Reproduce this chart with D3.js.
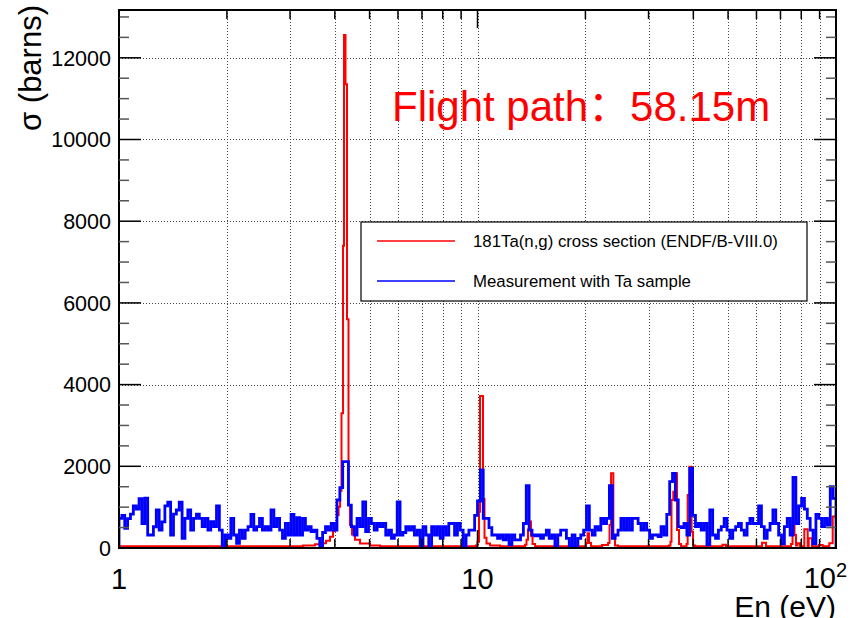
<!DOCTYPE html>
<html>
<head>
<meta charset="utf-8">
<style>
  body { margin: 0; background: #fff; }
  svg text { font-family: "Liberation Sans", Arial, Helvetica, "Noto Sans CJK SC", sans-serif; }
</style>
<script src="https://cdn.jsdelivr.net/npm/d3@7"></script>
</head>
<body>
<div id="chart"></div>
<script>
// measurement histogram: 250 log bins between 1 and 100 eV
var eMin = 1, eMax = 100, nBins = 250;
var blueCounts = [
  727, 800, 480, 720, 830, 1030, 950, 1210, 600, 1220,
  318, 318, 520, 930, 440, 640, 1030, 1120, 318, 830,
  930, 1120, 236, 726, 930, 440, 726, 830, 726, 522,
  726, 440, 644, 522, 1028, 440, 0, 318, 236, 726,
  318, 114, 440, 236, 440, 522, 824, 440, 522, 726,
  440, 522, 440, 930, 522, 726, 440, 236, 600, 318,
  824, 318, 740, 318, 726, 440, 522, 400, 440, 236,
  0, 380, 520, 440, 600, 440, 1175, 1480, 2113, 2113,
  1050, 522, 318, 726, 522, 1126, 400, 726, 600, 440,
  600, 522, 600, 318, 440, 236, 318, 1126, 318, 380,
  522, 440, 522, 318, 440, 0, 522, 318, 0, 522,
  318, 522, 236, 522, 318, 600, 600, 318, 600, 440,
  0, 318, 440, 440, 800, 1150, 1909, 726, 726, 500,
  318, 318, 236, 318, 200, 318, 80, 318, 200, 200,
  318, 600, 1526, 440, 318, 300, 318, 236, 318, 440,
  236, 318, 40, 318, 440, 440, 236, 0, 318, 0,
  236, 318, 440, 1028, 440, 318, 522, 440, 726, 600,
  726, 1526, 236, 318, 440, 726, 440, 726, 440, 726,
  726, 600, 440, 600, 440, 236, 318, 318, 280, 522,
  318, 824, 1624, 1827, 1175, 522, 500, 600, 318, 1950,
  800, 522, 600, 440, 600, 80, 930, 318, 236, 440,
  522, 726, 440, 236, 440, 522, 600, 440, 318, 600,
  726, 600, 600, 1028, 522, 236, 440, 600, 930, 600,
  318, 100, 522, 726, 318, 1729, 600, 1028, 1215, 950,
  726, 440, 100, 824, 726, 522, 726, 560, 1500, 1215
];

// ENDF cross section, read as step points (energy eV, sigma barns)
var redEnergy = [
  1.000, 2.320, 3.198, 3.261, 3.521, 3.636, 3.780, 3.878, 3.954, 4.005,
  4.057, 4.097, 4.137, 4.175, 4.216, 4.243, 4.284, 4.325, 4.367, 4.410,
  4.466, 4.553, 4.701, 5.013, 5.346, 9.530, 9.904, 10.00, 10.097, 10.162,
  10.360, 10.460, 10.595, 10.836, 11.556, 13.569, 13.700, 13.833, 13.922, 14.102,
  14.239, 14.475, 20.08, 20.27, 20.47, 20.73, 22.25, 23.13, 23.35, 23.58,
  23.93, 24.19, 24.66, 34.21, 34.54, 34.76, 35.17, 35.56, 36.02, 36.48,
  36.96, 38.28, 38.57, 39.02, 39.54, 39.92, 40.44, 48.23, 49.32, 62.16,
  63.78, 74.90, 75.63, 76.60, 77.34, 78.09, 79.36, 81.58, 83.38, 83.91,
  85.71, 89.65, 91.81, 95.79, 97.90, 100
];
var redSigma = [
  45, 40, 45, 60, 90, 115, 180, 277, 420, 522,
  800, 1011, 1400, 3300, 7400, 12560, 11350, 5600, 1050, 560,
  330, 200, 110, 60, 45, 40, 60, 150, 890, 3720,
  1200, 250, 110, 60, 40, 80, 200, 450, 650, 300,
  100, 45, 120, 360, 120, 40, 75, 120, 560, 1827,
  300, 60, 40, 60, 150, 1175, 1380, 1830, 440, 100,
  40, 100, 1300, 1990, 400, 60, 40, 80, 40, 130,
  40, 100, 560, 320, 60, 114, 40, 460, 40, 236,
  40, 73, 40, 114, 770, 770
];

var yMajor = [0, 2000, 4000, 6000, 8000, 10000, 12000];
var xMajor = [1, 10, 100];
var xMinor = [2, 3, 4, 5, 6, 7, 8, 9, 20, 30, 40, 50, 60, 70, 80, 90];
var yMax = 13170;

var W = 860, H = 618;
var fLeft = 119, fRight = 836, fTop = 10, fBottom = 548;

var svg = d3.select("#chart").append("svg")
    .attr("width", W).attr("height", H);

var x = d3.scaleLog().domain([eMin, eMax]).range([fLeft, fRight]);
var y = d3.scaleLinear().domain([0, yMax]).range([fBottom, fTop]);

// grid
var grid = svg.append("g").attr("stroke", "#444").attr("stroke-width", 1)
    .attr("stroke-dasharray", "1,2");
grid.selectAll(".gx").data(xMinor.concat([10])).enter().append("line")
    .attr("x1", function(d) { return Math.round(x(d)) + 0.5; })
    .attr("x2", function(d) { return Math.round(x(d)) + 0.5; })
    .attr("y1", fTop).attr("y2", fBottom);
grid.selectAll(".gy").data(yMajor.slice(1)).enter().append("line")
    .attr("y1", function(d) { return Math.round(y(d)) + 0.5; })
    .attr("y2", function(d) { return Math.round(y(d)) + 0.5; })
    .attr("x1", fLeft).attr("x2", fRight);

svg.append("clipPath").attr("id", "clip").append("rect")
    .attr("x", fLeft).attr("y", fTop).attr("width", fRight - fLeft).attr("height", fBottom - fTop);

var plot = svg.append("g").attr("clip-path", "url(#clip)");

// red cross section (step line)
var redPts = redEnergy.map(function(e, i) { return [e, redSigma[i]]; });
var redLine = d3.line()
    .x(function(d) { return x(d[0]); })
    .y(function(d) { return y(d[1]); })
    .curve(d3.curveStepAfter);
plot.append("path").datum(redPts)
    .attr("d", redLine)
    .attr("fill", "none").attr("stroke", "#ff0000").attr("stroke-width", 2);

// blue measurement histogram
var lmin = Math.log10(eMin), lmax = Math.log10(eMax);
var edges = d3.range(nBins + 1).map(function(i) { return Math.pow(10, lmin + (lmax - lmin) * i / nBins); });
var bluePts = [[edges[0], 0]];
blueCounts.forEach(function(v, i) {
  bluePts.push([edges[i], v]);
  bluePts.push([edges[i + 1], v]);
});
bluePts.push([edges[nBins], 0]);
plot.append("path").datum(bluePts)
    .attr("d", d3.line().x(function(d) { return x(d[0]); }).y(function(d) { return y(d[1]); }))
    .attr("fill", "none").attr("stroke", "#0000ff").attr("stroke-width", 2.8)
    .attr("stroke-linejoin", "miter");

// frame
svg.append("rect").attr("x", fLeft).attr("y", fTop)
    .attr("width", fRight - fLeft).attr("height", fBottom - fTop)
    .attr("fill", "none").attr("stroke", "#000").attr("stroke-width", 2);

// y ticks (both sides)
var yMinor = d3.range(500, 13001, 500).filter(function(d) { return d % 2000 !== 0; });
var ticks = svg.append("g").attr("stroke", "#000").attr("stroke-width", 1.5);
[fLeft, fRight].forEach(function(x0, k) {
  var dir = k === 0 ? 1 : -1;
  ticks.selectAll(null).data(yMajor).enter().append("line")
      .attr("x1", x0).attr("x2", x0 + dir * 22)
      .attr("y1", function(d) { return y(d); }).attr("y2", function(d) { return y(d); });
  ticks.selectAll(null).data(yMinor).enter().append("line")
      .attr("stroke", "#555")
      .attr("x1", x0).attr("x2", x0 + dir * 10)
      .attr("y1", function(d) { return y(d); }).attr("y2", function(d) { return y(d); });
});
// x ticks (bottom and top)
[fBottom, fTop].forEach(function(y0, k) {
  var dir = k === 0 ? -1 : 1;
  ticks.selectAll(null).data(xMinor).enter().append("line")
      .attr("x1", function(d) { return x(d); }).attr("x2", function(d) { return x(d); })
      .attr("y1", y0).attr("y2", y0 + dir * 9);
  ticks.selectAll(null).data(xMajor).enter().append("line")
      .attr("x1", function(d) { return x(d); }).attr("x2", function(d) { return x(d); })
      .attr("y1", y0).attr("y2", y0 + dir * 18);
});

// y tick labels
svg.append("g").selectAll("text").data(yMajor).enter().append("text")
    .attr("x", fLeft - 8).attr("y", function(d) { return y(d); })
    .attr("dy", "0.36em").attr("text-anchor", "end")
    .attr("font-size", 21.5).attr("fill", "#000")
    .text(function(d) { return d; });

// x tick labels
svg.append("text").attr("x", x(1)).attr("y", 589).attr("text-anchor", "middle")
    .attr("font-size", 29).text("1");
svg.append("text").attr("x", x(10)).attr("y", 589).attr("text-anchor", "middle")
    .attr("font-size", 29).text("10");
svg.append("text").attr("x", x(100)).attr("y", 588).attr("text-anchor", "end")
    .attr("font-size", 29).text("10");
svg.append("text").attr("x", x(100)).attr("y", 577).attr("font-size", 20).text("2");

// axis titles
svg.append("text").attr("x", fRight).attr("y", 617).attr("text-anchor", "end")
    .attr("font-size", 30).text("En (eV)");
svg.append("text").attr("transform", "translate(41,5) rotate(-90)")
    .attr("text-anchor", "end").attr("font-size", 31).text("σ (barns)");

// annotation
svg.append("text").attr("x", 392).attr("y", 121).attr("font-size", 42)
    .attr("fill", "#ff0000").text("Flight path：58.15m");

// legend
var lg = svg.append("g");
lg.append("rect").attr("x", 361).attr("y", 222).attr("width", 446).attr("height", 79)
    .attr("fill", "#fff").attr("stroke", "#000").attr("stroke-width", 1.2);
var legendItems = [
  {label: "181Ta(n,g) cross section (ENDF/B-VIII.0)", color: "#ff0000"},
  {label: "Measurement with Ta sample", color: "#0000ff"}
];
legendItems.forEach(function(d, i) {
  var yy = 241 + i * 40;
  lg.append("line").attr("x1", 377).attr("x2", 455).attr("y1", yy).attr("y2", yy)
      .attr("stroke", d.color).attr("stroke-width", 1.5);
  lg.append("text").attr("x", 473).attr("y", yy).attr("dy", "0.36em")
      .attr("font-size", 16.8).text(d.label);
});
</script>
</body>
</html>
